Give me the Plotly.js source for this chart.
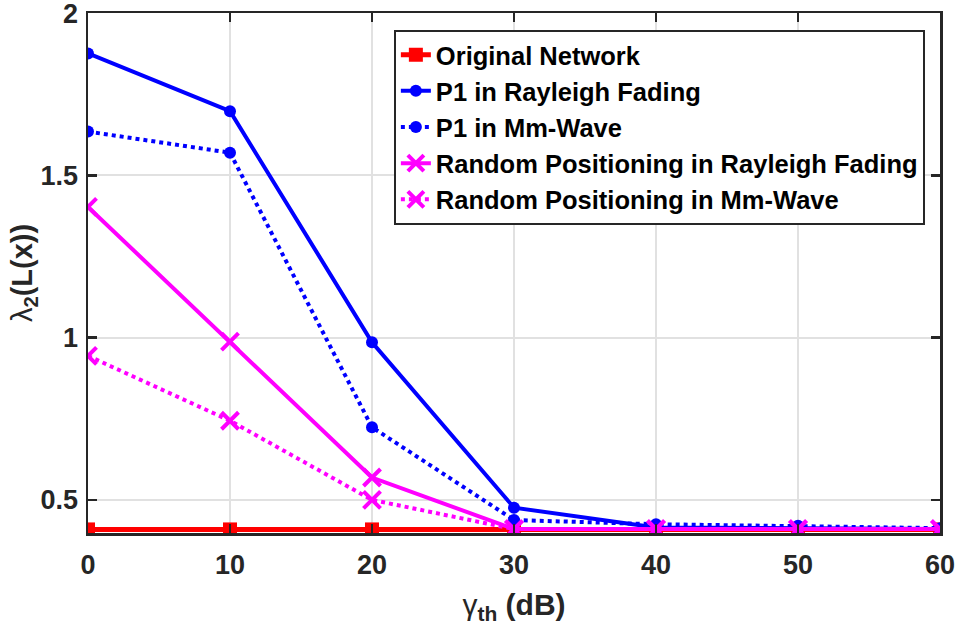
<!DOCTYPE html>
<html>
<head>
<meta charset="utf-8">
<script src="https://cdn.plot.ly/plotly-3.0.1.min.js"></script>
<style>html,body{margin:0;padding:0;background:#fff;}#chart{width:958px;height:629px;}</style>
</head>
<body>
<div id="chart"></div>
<script>
const gammaTh = [0, 10, 20, 30, 40, 50, 60];
const originalNetwork = [0.409, 0.409, 0.409, 0.409, 0.409, 0.409, 0.409];
const p1Rayleigh = [1.876, 1.698, 0.986, 0.476, 0.415, 0.412, 0.41];
const p1MmWave = [1.635, 1.570, 0.724, 0.438, 0.425, 0.42, 0.413];
const randRayleigh = [1.403, 0.988, 0.569, 0.41, 0.41, 0.41, 0.41];
const randMmWave = [0.944, 0.744, 0.5, 0.41, 0.41, 0.41, 0.41];
const seriesNames = ["Original Network", "P1 in Rayleigh Fading", "P1 in Mm-Wave",
  "Random Positioning in Rayleigh Fading", "Random Positioning in Mm-Wave"];
const xTicks = [0, 10, 20, 30, 40, 50, 60];
const yTicks = [0.5, 1, 1.5, 2];
const yTickText = ["0.5", "1", "1.5", "2"];

const RED = "#ff0000", BLUE = "#0000ff", MAG = "#ff00ff";
const traces = [
  {x: gammaTh, y: originalNetwork, name: seriesNames[0], mode: "lines+markers",
   line: {color: RED, width: 5}, marker: {symbol: "square", size: 14, color: RED}},
  {x: gammaTh, y: p1Rayleigh, name: seriesNames[1], mode: "lines+markers",
   line: {color: BLUE, width: 4}, marker: {symbol: "circle", size: 12, color: BLUE}},
  {x: gammaTh, y: p1MmWave, name: seriesNames[2], mode: "lines+markers",
   line: {color: BLUE, width: 4, dash: "dot"}, marker: {symbol: "circle", size: 12, color: BLUE}},
  {x: gammaTh, y: randRayleigh, name: seriesNames[3], mode: "lines+markers",
   line: {color: MAG, width: 4}, marker: {symbol: "x-thin", size: 17, color: MAG, line: {color: MAG, width: 4}}},
  {x: gammaTh, y: randMmWave, name: seriesNames[4], mode: "lines+markers",
   line: {color: MAG, width: 4, dash: "dot"}, marker: {symbol: "x-thin", size: 17, color: MAG, line: {color: MAG, width: 4}}}
];

const FONT = "Liberation Sans, Arial, sans-serif";
const tickFont = {family: FONT, size: 27, color: "#262626", weight: "bold"};
const layout = {
  width: 958, height: 629,
  margin: {l: 88, r: 18, t: 13, b: 96},
  paper_bgcolor: "#fff", plot_bgcolor: "#fff",
  showlegend: true,
  xaxis: {
    range: [0, 60], tickvals: xTicks, ticktext: xTicks.map(String),
    showgrid: true, gridcolor: "#e1e1e1", gridwidth: 2,
    showline: true, linecolor: "#262626", linewidth: 2.5, mirror: "ticks",
    ticks: "inside", ticklen: 9, tickwidth: 2.5, tickcolor: "#262626",
    tickfont: tickFont, zeroline: false, ticklabelstandoff: 6, ticklabeloverflow: "allow",
    title: {text: "γ<b><sub>th</sub> (dB)</b>", font: {family: FONT, size: 30, color: "#262626"}, standoff: 15}
  },
  yaxis: {
    range: [0.398, 2.0005], tickvals: yTicks, ticktext: yTickText,
    showgrid: true, gridcolor: "#e1e1e1", gridwidth: 2,
    showline: true, linecolor: "#262626", linewidth: 2.5, mirror: "ticks",
    ticks: "inside", ticklen: 9, tickwidth: 2.5, tickcolor: "#262626",
    tickfont: tickFont, zeroline: false, ticklabelstandoff: 2, ticklabeloverflow: "allow",
    title: {text: "λ<b><sub>2</sub>(L(x))</b>", font: {family: FONT, size: 29, color: "#262626"}, standoff: 0}
  },
  legend: {
    x: 0.359, y: 0.968, xanchor: "left", yanchor: "top",
    bgcolor: "#fff", bordercolor: "#262626", borderwidth: 2,
    font: {family: FONT, size: 25.5, color: "#000", weight: "bold"},
    itemwidth: 30, tracegroupgap: 0
  }
};
Plotly.newPlot("chart", traces, layout, {displayModeBar: false, staticPlot: true});
</script>
</body>
</html>
